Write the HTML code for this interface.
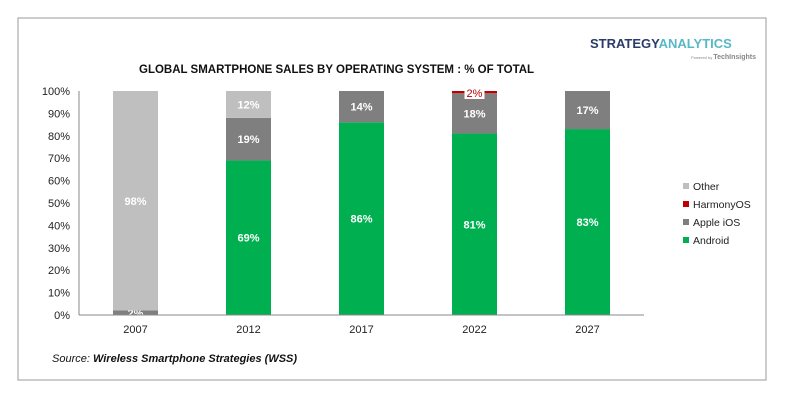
<!DOCTYPE html>
<html><head><meta charset="utf-8"><style>
body{margin:0;background:#fff;width:786px;height:403px;overflow:hidden;font-family:"Liberation Sans",Arial,sans-serif}
</style></head><body>
<svg width="786" height="403" xmlns="http://www.w3.org/2000/svg">
<rect x="18" y="18" width="748" height="362" fill="#fff" stroke="#bbb" stroke-width="1.5"/>
<text x="139" y="73" font-size="11.5" font-weight="bold" fill="#111">GLOBAL SMARTPHONE SALES BY OPERATING SYSTEM : % OF TOTAL</text>
<text x="590" y="48" font-size="13" font-weight="bold" fill="#2a3a6a">STRATEGY<tspan fill="#58b8c8">ANALYTICS</tspan></text>
<text x="756" y="59" font-size="7" text-anchor="end" fill="#888"><tspan font-size="4">Powered by </tspan><tspan font-weight="bold">TechInsights</tspan></text>
<g id="plot"></g>
<text x="52" y="362" font-size="11" font-style="italic" fill="#111">Source: <tspan font-weight="bold">Wireless Smartphone Strategies (WSS)</tspan></text>
</svg>
<script>
const categories=["2007","2012","2017","2022","2027"];
const android=[0,69,86,81,83];
const ios=[2,19,14,18,17];
const harmony=[0,0,0,1,0];
const other=[98,12,0,0,0];
const androidLabels=["","69%","86%","81%","83%"];
const iosLabels=["2%","19%","14%","18%","17%"];
const harmonyLabels=["","","","2%",""];
const otherLabels=["98%","12%","","",""];
const yTicks=[0,10,20,30,40,50,60,70,80,90,100];
const legendNames=["Other","HarmonyOS","Apple iOS","Android"];
const legendColors=["#bfbfbf","#c00000","#7f7f7f","#00b050"];
const NS="http://www.w3.org/2000/svg";
const g=document.getElementById('plot');
const x0=79,y0=315,y100=91,step=113,bw=45;
const y=v=>y0-(y0-y100)*v/100;
const xc=i=>x0+56.5+i*step;
function mk(t,a,txt){const e=document.createElementNS(NS,t);for(const k in a)e.setAttribute(k,a[k]);if(txt!==undefined)e.textContent=txt;g.appendChild(e);return e;}
yTicks.forEach(t=>{const e=mk('text',{x:70,y:y(t)+4,'font-size':11,'text-anchor':'end',fill:'#222'},t+'%');

});
const series=[[android,"#00b050",androidLabels,"android"],[ios,"#7f7f7f",iosLabels,"ios"],[harmony,"#c00000",harmonyLabels,"harmonyos"],[other,"#bfbfbf",otherLabels,"other"]];
categories.forEach((c,i)=>{let base=0;
series.forEach(([vals,col,labs,nm])=>{const v=vals[i];if(v>0){
const r=mk('rect',{x:xc(i)-bw/2,y:y(base+v),width:bw,height:y(base)-y(base+v),fill:col});

}
if(labs[i]){let ly=(y(base)+y(base+v))/2+4;let fill='#fff';
if(nm==='harmonyos'){ly=y(base+v)+6;mk('rect',{x:xc(i)-10,y:ly-9,width:20,height:11,fill:'#fff'});fill='#c00000';}
const t=mk('text',{x:xc(i),y:ly,'font-size':11,'font-weight':nm==='harmonyos'?'normal':'bold','text-anchor':'middle',fill:fill},labs[i]);

}
base+=v;});
const t=mk('text',{x:xc(i),y:333,'font-size':11,'text-anchor':'middle',fill:'#222'},c);

});
const ax=mk('line',{x1:x0,y1:y100,x2:x0,y2:y0,stroke:'#888'});


const bx=mk('line',{x1:x0,y1:y0,x2:x0+5*step,y2:y0,stroke:'#888'});


legendNames.forEach((n,i)=>{const ly=187+i*18;
const s=mk('rect',{x:683,y:ly-4,width:6,height:6,fill:legendColors[i]});


const t=mk('text',{x:693,y:ly+3,'font-size':10.5,fill:'#222'},n);

});
</script>
</body></html>
